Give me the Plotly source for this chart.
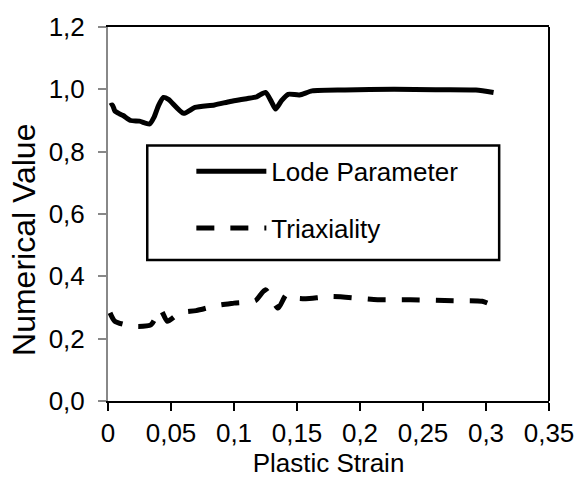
import plotly.graph_objects as go

lode_strain = [0.0016, 0.0035, 0.0054, 0.0093, 0.012, 0.018, 0.025, 0.033, 0.0365, 0.040, 0.044,
               0.048, 0.060, 0.069, 0.0845, 0.097, 0.110, 0.118, 0.125, 0.130, 0.133, 0.1376,
               0.143, 0.152, 0.162, 0.188, 0.227, 0.260, 0.292, 0.306]
lode_val = [0.947, 0.950, 0.931, 0.921, 0.916, 0.900, 0.898, 0.889, 0.910, 0.947, 0.974,
            0.968, 0.923, 0.942, 0.950, 0.961, 0.970, 0.976, 0.990, 0.958, 0.937, 0.963,
            0.984, 0.982, 0.995, 0.998, 1.000, 0.999, 0.998, 0.990]

triax_strain = [0.0016, 0.0054, 0.0197, 0.034, 0.0417, 0.047, 0.057, 0.070, 0.087, 0.100,
                0.117, 0.125, 0.135, 0.1415, 0.149, 0.157, 0.178, 0.214, 0.240, 0.274, 0.297, 0.307]
triax_val = [0.283, 0.256, 0.240, 0.244, 0.293, 0.256, 0.283, 0.290, 0.307, 0.314,
             0.322, 0.357, 0.298, 0.341, 0.330, 0.328, 0.335, 0.325, 0.325, 0.322, 0.320, 0.304]

x_ticks = [0, 0.05, 0.1, 0.15, 0.2, 0.25, 0.3, 0.35]
y_ticks = [0, 0.2, 0.4, 0.6, 0.8, 1.0, 1.2]

FONT = "Arial, Liberation Sans, sans-serif"

fig = go.Figure()
fig.add_trace(go.Scatter(x=lode_strain, y=lode_val, mode="lines", name="Lode Parameter",
                         legendgroup="a",
                         line=dict(color="black", width=5, shape="spline", smoothing=0.6)))
fig.add_trace(go.Scatter(x=triax_strain, y=triax_val, mode="lines", name="Triaxiality",
                         legendgroup="b",
                         line=dict(color="black", width=5, dash="18px,16px", shape="spline", smoothing=0.6)))

fig.update_layout(
    width=586, height=482,
    margin=dict(l=108, r=28, t=22, b=81),
    paper_bgcolor="white", plot_bgcolor="white",
    separators=", ",
    font=dict(family=FONT, size=26, color="black"),
    showlegend=True,
    legend=dict(x=0.189, y=0.677, xanchor="left", yanchor="top",
                bgcolor="rgba(0,0,0,0)", borderwidth=0,
                traceorder="grouped", tracegroupgap=20, itemwidth=70,
                font=dict(size=26, family=FONT)),
    xaxis=dict(range=[0, 0.35], tickvals=x_ticks, ticks="outside", ticklen=8, tickcolor="black",
               tickwidth=2, showline=True, linecolor="black", linewidth=2, mirror=True,
               showgrid=False, zeroline=False,
               title=dict(text="Plastic Strain", font=dict(size=26), standoff=4)),
    yaxis=dict(range=[0, 1.2], tickvals=y_ticks, tickformat=".1f", ticks="outside", ticklen=8,
               tickcolor="#888888", tickwidth=2, showline=True, linecolor="#888888", linewidth=2,
               showgrid=False, zeroline=False, ticklabelstandoff=8),
    annotations=[
        dict(text="Numerical Value", xref="paper", yref="paper", x=-0.191, y=0.43,
             xanchor="center", yanchor="middle", textangle=-90, showarrow=False,
             font=dict(size=32, family=FONT, color="black")),
    ],
    shapes=[
        dict(type="rect", xref="paper", yref="paper", x0=0.089, x1=0.887, y0=0.377, y1=0.683,
             line=dict(color="black", width=2.5), fillcolor="rgba(0,0,0,0)", layer="below"),
        dict(type="line", xref="paper", yref="paper", x0=1, x1=1, y0=0, y1=1,
             line=dict(color="black", width=2)),
    ],
)

fig.write_html("out.html")
